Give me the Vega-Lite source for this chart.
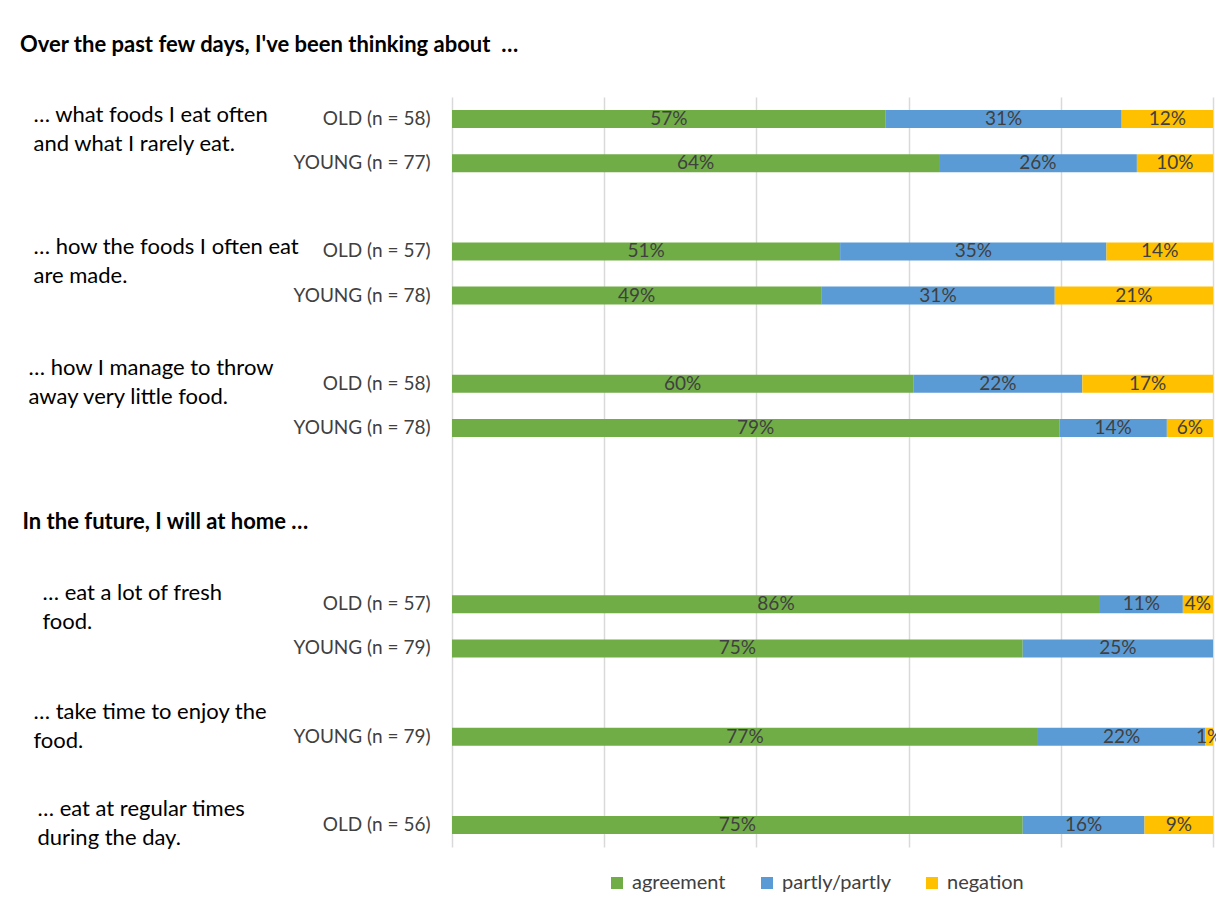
{
  "$schema": "https://vega.github.io/schema/vega-lite/v6.json",
  "width": 761,
  "height": 750,
  "padding": {"left": 20, "top": 34, "right": 3, "bottom": 10},
  "background": "white",
  "title": {
    "text": "Over the past few days, I've been thinking about\u00a0 …",
    "anchor": "start",
    "frame": "bounds",
    "fontSize": 22,
    "fontWeight": "bold",
    "font": "Lato",
    "color": "#000000",
    "offset": 40,
    "dx": -2
  },
  "config": {"font": "Lato", "view": {"stroke": null}},
  "layer": [
    {
      "data": {
        "values": [
          {"row": "OLD (n = 58)|1", "resp": "agreement", "k": 1, "pct": 0.57},
          {"row": "OLD (n = 58)|1", "resp": "partly/partly", "k": 2, "pct": 0.31},
          {"row": "OLD (n = 58)|1", "resp": "negation", "k": 3, "pct": 0.12},
          {"row": "YOUNG (n = 77)|1", "resp": "agreement", "k": 1, "pct": 0.64},
          {"row": "YOUNG (n = 77)|1", "resp": "partly/partly", "k": 2, "pct": 0.26},
          {"row": "YOUNG (n = 77)|1", "resp": "negation", "k": 3, "pct": 0.10},
          {"row": "OLD (n = 57)|2", "resp": "agreement", "k": 1, "pct": 0.51},
          {"row": "OLD (n = 57)|2", "resp": "partly/partly", "k": 2, "pct": 0.35},
          {"row": "OLD (n = 57)|2", "resp": "negation", "k": 3, "pct": 0.14},
          {"row": "YOUNG (n = 78)|2", "resp": "agreement", "k": 1, "pct": 0.49},
          {"row": "YOUNG (n = 78)|2", "resp": "partly/partly", "k": 2, "pct": 0.31},
          {"row": "YOUNG (n = 78)|2", "resp": "negation", "k": 3, "pct": 0.21},
          {"row": "OLD (n = 58)|3", "resp": "agreement", "k": 1, "pct": 0.60},
          {"row": "OLD (n = 58)|3", "resp": "partly/partly", "k": 2, "pct": 0.22},
          {"row": "OLD (n = 58)|3", "resp": "negation", "k": 3, "pct": 0.17},
          {"row": "YOUNG (n = 78)|3", "resp": "agreement", "k": 1, "pct": 0.79},
          {"row": "YOUNG (n = 78)|3", "resp": "partly/partly", "k": 2, "pct": 0.14},
          {"row": "YOUNG (n = 78)|3", "resp": "negation", "k": 3, "pct": 0.06},
          {"row": "OLD (n = 57)|4", "resp": "agreement", "k": 1, "pct": 0.86},
          {"row": "OLD (n = 57)|4", "resp": "partly/partly", "k": 2, "pct": 0.11},
          {"row": "OLD (n = 57)|4", "resp": "negation", "k": 3, "pct": 0.04},
          {"row": "YOUNG (n = 79)|4", "resp": "agreement", "k": 1, "pct": 0.75},
          {"row": "YOUNG (n = 79)|4", "resp": "partly/partly", "k": 2, "pct": 0.25},
          {"row": "YOUNG (n = 79)|5", "resp": "agreement", "k": 1, "pct": 0.77},
          {"row": "YOUNG (n = 79)|5", "resp": "partly/partly", "k": 2, "pct": 0.22},
          {"row": "YOUNG (n = 79)|5", "resp": "negation", "k": 3, "pct": 0.01},
          {"row": "OLD (n = 56)|6", "resp": "agreement", "k": 1, "pct": 0.75},
          {"row": "OLD (n = 56)|6", "resp": "partly/partly", "k": 2, "pct": 0.16},
          {"row": "OLD (n = 56)|6", "resp": "negation", "k": 3, "pct": 0.09}
        ]
      },
      "layer": [
        {
          "mark": {"type": "bar", "size": 18},
          "encoding": {
            "y": {
              "field": "row",
              "type": "nominal",
              "scale": {
                "domain": ["OLD (n = 58)|1", "YOUNG (n = 77)|1", "|a", "OLD (n = 57)|2", "YOUNG (n = 78)|2", "|b", "OLD (n = 58)|3", "YOUNG (n = 78)|3", "|c", "|d", "|e", "OLD (n = 57)|4", "YOUNG (n = 79)|4", "|f", "YOUNG (n = 79)|5", "|g", "OLD (n = 56)|6"],
                "paddingInner": 0,
                "paddingOuter": 0
              },
              "axis": {
                "title": null,
                "domain": false,
                "ticks": false,
                "labelExpr": "split(datum.value, '|')[0]",
                "labelFontSize": 19,
                "labelColor": "#404040",
                "labelPadding": 22,
                "labelLimit": 300
              }
            },
            "x": {
              "field": "pct",
              "type": "quantitative",
              "stack": "normalize",
              "axis": {
                "values": [0, 0.2, 0.4, 0.6, 0.8, 1],
                "grid": true,
                "gridColor": "#d9d9d9",
                "gridWidth": 1.5,
                "labels": false,
                "ticks": false,
                "domain": false,
                "title": null
              }
            },
            "color": {
              "field": "resp",
              "type": "nominal",
              "scale": {
                "domain": ["agreement", "partly/partly", "negation"],
                "range": ["#70AD47", "#5B9BD5", "#FFC000"]
              },
              "legend": {
                "title": null,
                "orient": "none",
                "legendX": 155,
                "legendY": 776,
                "padding": 0,
                "direction": "horizontal",
                "symbolType": "square",
                "symbolSize": 144,
                "symbolStrokeWidth": 0,
                "labelFontSize": 20,
                "labelColor": "#404040",
                "labelOffset": 5,
                "columnPadding": 31
              }
            },
            "order": {"field": "k", "type": "quantitative"}
          }
        },
        {
          "mark": {"type": "text", "fontSize": 19, "color": "#404040", "baseline": "middle"},
          "encoding": {
            "y": {"field": "row", "type": "nominal"},
            "x": {"field": "pct", "type": "quantitative", "stack": "normalize", "bandPosition": 0.5},
            "detail": {"field": "resp", "type": "nominal"},
            "text": {"field": "pct", "type": "quantitative", "format": ".0%"},
            "order": {"field": "k", "type": "quantitative"}
          }
        }
      ]
    },
    {
      "data": {
        "values": [
          {"q": "… what foods I eat often|and what I rarely eat."},
          {"q": "… how the foods I often eat|are made."},
          {"q": "… how I manage to throw|away very little food."},
          {"q": "In the future, I will at home …"},
          {"q": "… eat a lot of fresh|food."},
          {"q": "… take time to enjoy the|food."},
          {"q": "… eat at regular times|during the day."}
        ]
      },
      "mark": {"type": "text", "text": ""},
      "encoding": {
        "y": {
          "field": "q",
          "type": "nominal",
          "scale": {
            "domain": ["… what foods I eat often|and what I rarely eat.", "_1", "_2", "… how the foods I often eat|are made.", "_3", "_4", "… how I manage to throw|away very little food.", "_5", "_6", "In the future, I will at home …", "_7", "… eat a lot of fresh|food.", "_8", "_9", "… take time to enjoy the|food.", "_10", "… eat at regular times|during the day."],
            "paddingInner": 0,
            "paddingOuter": 0
          },
          "axis": {
            "orient": "left",
            "offset": 419,
            "title": null,
            "domain": false,
            "ticks": false,
            "labelAlign": "left",
            "labelPadding": {
              "condition": [
                {"test": "indexof(datum.value, 'In the future') == 0", "value": 11},
                {"test": "indexof(datum.value, '… how I manage') == 0", "value": 5},
                {"test": "indexof(datum.value, '… eat a lot') == 0", "value": -9},
                {"test": "indexof(datum.value, '… eat at regular') == 0", "value": -4}
              ],
              "value": 0
            },
            "labelOffset": {
              "condition": [
                {"test": "indexof(datum.value, 'In the future') == 0", "value": 5},
                {"test": "indexof(datum.value, '… what foods') == 0", "value": -5},
                {"test": "indexof(datum.value, '… how the foods') == 0", "value": -5},
                {"test": "indexof(datum.value, '… how I manage') == 0", "value": -16},
                {"test": "indexof(datum.value, '… eat a lot') == 0", "value": -12},
                {"test": "indexof(datum.value, '… take time') == 0", "value": -25},
                {"test": "indexof(datum.value, '… eat at regular') == 0", "value": -16}
              ],
              "value": 0
            },
            "labelFontSize": 22,
            "labelColor": "#000000",
            "labelLimit": 420,
            "labelLineHeight": 29,
            "labelFontWeight": {"condition": {"test": "indexof(datum.value, 'In the future') == 0", "value": "bold"}, "value": "normal"},
            "labelExpr": "indexof(datum.value, '_') == 0 ? '' : split(datum.value, '|')"
          }
        }
      }
    }
  ],
  "resolve": {"scale": {"y": "independent"}, "axis": {"y": "independent"}}
}
